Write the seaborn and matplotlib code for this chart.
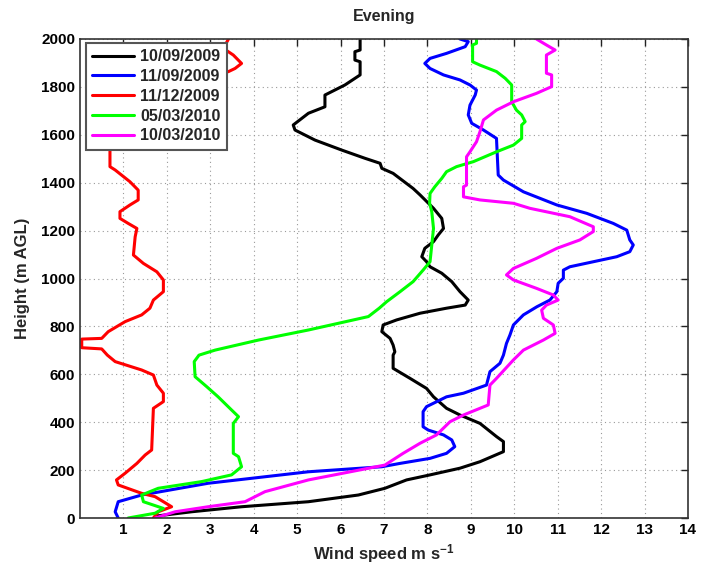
import matplotlib
matplotlib.use("Agg")
import matplotlib.pyplot as plt
import pandas as pd
import seaborn as sns

# Evening wind-speed profiles (height in m AGL, speed in m/s), listed top to bottom
dates = ["10/09/2009", "11/09/2009", "11/12/2009", "05/03/2010", "10/03/2010"]
colors = ["#000000", "#0000ff", "#ff0000", "#00ff00", "#ff00ff"]

height_100909 = [2000, 1954, 1947, 1912, 1905, 1850, 1808, 1766, 1717, 1690, 1641, 1620,
                 1578, 1536, 1502, 1481, 1460, 1439, 1376, 1349, 1293, 1251, 1209, 1182,
                 1154, 1126, 1091, 1070, 1049, 1022, 987, 945, 910, 889, 876, 855, 827,
                 806, 778, 750, 722, 694, 680, 625, 583, 541, 506, 458, 430, 395, 340,
                 319, 277, 235, 208, 180, 159, 124, 96, 68, 47, 26, 8]
speed_100909 = [6.45, 6.45, 6.33, 6.33, 6.45, 6.45, 6.10, 5.64, 5.64, 5.26, 4.91, 4.95,
                5.41, 6.03, 6.56, 6.91, 6.95, 7.21, 7.67, 7.83, 8.14, 8.33, 8.37, 8.25,
                8.14, 7.94, 7.87, 7.98, 8.06, 8.33, 8.56, 8.75, 8.94, 8.87, 8.44, 7.83,
                7.29, 6.98, 6.95, 7.14, 7.21, 7.25, 7.21, 7.21, 7.60, 7.98, 8.14, 8.44,
                8.75, 9.21, 9.59, 9.75, 9.75, 9.21, 8.75, 8.06, 7.52, 7.02, 6.41, 5.26,
                3.72, 2.57, 1.75]

height_110909 = [2000, 1989, 1968, 1940, 1919, 1898, 1877, 1850, 1829, 1808, 1787, 1766,
                 1724, 1683, 1648, 1620, 1585, 1432, 1411, 1362, 1307, 1272, 1230, 1202,
                 1161, 1140, 1112, 1091, 1070, 1049, 1035, 1001, 980, 945, 910, 882, 848,
                 806, 764, 729, 680, 646, 611, 555, 521, 506, 465, 444, 381, 367, 347,
                 326, 298, 270, 249, 228, 214, 193, 145, 96, 68, 26, 0]
speed_110909 = [8.75, 8.94, 8.87, 8.44, 8.06, 7.94, 8.06, 8.37, 8.75, 8.98, 9.13, 9.10,
                8.98, 8.94, 9.02, 9.29, 9.59, 9.63, 9.75, 10.21, 10.98, 11.67, 12.28,
                12.59, 12.66, 12.74, 12.66, 12.36, 11.82, 11.28, 11.13, 11.13, 11.01,
                10.98, 10.82, 10.52, 10.21, 9.98, 9.90, 9.82, 9.75, 9.67, 9.44, 9.36,
                8.83, 8.44, 7.98, 7.90, 7.90, 8.02, 8.37, 8.56, 8.63, 8.44, 8.06, 7.37,
                6.95, 5.26, 2.95, 1.42, 0.88, 0.81, 0.88]

height_111209 = [2000, 1961, 1933, 1898, 1877, 1864, 1820, 1760, 1700, 1640, 1580, 1557,
                 1467, 1453, 1404, 1369, 1328, 1307, 1279, 1251, 1230, 1209, 1174, 1098,
                 1063, 1028, 994, 945, 910, 876, 848, 820, 778, 750, 747, 711, 706, 680,
                 653, 618, 597, 555, 521, 486, 458, 284, 263, 228, 187, 159, 138, 103,
                 89, 47, 26, 0]
speed_111209 = [3.42, 3.30, 3.53, 3.72, 3.57, 3.42, 2.60, 1.90, 1.40, 1.00, 0.75, 0.69,
                0.69, 0.81, 1.15, 1.34, 1.34, 1.15, 0.92, 0.92, 1.11, 1.31, 1.27, 1.23,
                1.46, 1.77, 1.92, 1.92, 1.69, 1.61, 1.42, 1.04, 0.65, 0.50, 0.04, 0.04,
                0.50, 0.63, 0.81, 1.42, 1.69, 1.77, 1.92, 1.92, 1.69, 1.65, 1.50, 1.31,
                1.04, 0.84, 0.88, 1.42, 1.73, 2.11, 1.80, 1.69]

height_050310 = [2000, 1982, 1975, 1905, 1891, 1864, 1836, 1808, 1738, 1703, 1683, 1655,
                 1641, 1585, 1557, 1529, 1488, 1467, 1446, 1418, 1383, 1355, 1314, 1279,
                 1209, 1070, 1035, 987, 945, 903, 876, 841, 785, 743, 701, 680, 653, 590,
                 548, 506, 451, 423, 395, 270, 256, 214, 180, 152, 124, 96, 68, 40, 20, 0]
speed_050310 = [9.13, 9.13, 9.04, 9.04, 9.21, 9.59, 9.79, 9.94, 9.94, 10.05, 10.17, 10.25,
                10.17, 10.17, 9.98, 9.59, 9.06, 8.67, 8.44, 8.33, 8.17, 8.06, 8.05, 8.10,
                8.14, 8.06, 7.90, 7.67, 7.37, 7.06, 6.89, 6.64, 5.26, 4.11, 3.11, 2.74,
                2.63, 2.65, 2.92, 3.18, 3.49, 3.65, 3.53, 3.53, 3.65, 3.72, 3.49, 2.80,
                1.80, 1.42, 1.46, 1.92, 1.73, 1.11]

height_100310 = [2000, 1975, 1954, 1933, 1857, 1850, 1801, 1773, 1738, 1703, 1662, 1613,
                 1571, 1529, 1508, 1390, 1383, 1341, 1328, 1314, 1293, 1258, 1216, 1196,
                 1161, 1126, 1084, 1042, 1015, 994, 959, 931, 910, 889, 868, 834, 806,
                 771, 743, 701, 660, 583, 555, 472, 430, 402, 347, 312, 270, 221, 159,
                 110, 68, 47, 26, 0]
speed_100310 = [10.51, 10.74, 10.94, 10.74, 10.74, 10.86, 10.86, 10.51, 9.98, 9.59, 9.29,
                9.21, 9.13, 8.98, 8.90, 8.90, 8.83, 8.83, 9.21, 9.98, 10.36, 11.28, 11.82,
                11.82, 11.51, 10.98, 10.51, 9.98, 9.82, 9.98, 10.51, 10.90, 11.01, 10.74,
                10.63, 10.67, 10.90, 10.94, 10.67, 10.21, 9.98, 9.59, 9.44, 9.40, 8.83,
                8.52, 8.21, 7.83, 7.44, 7.02, 5.26, 4.26, 3.80, 2.95, 2.19, 1.73]

profiles = {
    "10/09/2009": (height_100909, speed_100909),
    "11/09/2009": (height_110909, speed_110909),
    "11/12/2009": (height_111209, speed_111209),
    "05/03/2010": (height_050310, speed_050310),
    "10/03/2010": (height_100310, speed_100310),
}

frames = []
for date in dates:
    h, s = profiles[date]
    frames.append(pd.DataFrame({"date": date, "height": h, "speed": s,
                                "step": range(len(h))}))
df = pd.concat(frames, ignore_index=True)

x_ticks = list(range(1, 15))
y_ticks = list(range(0, 2001, 200))

sns.set_style("white")
plt.rcParams["font.family"] = ["Liberation Sans", "DejaVu Sans"]
plt.rcParams["font.weight"] = "bold"
plt.rcParams["mathtext.fontset"] = "custom"
plt.rcParams["mathtext.rm"] = "Liberation Sans:bold"
plt.rcParams["mathtext.default"] = "rm"

fig = plt.figure(figsize=(7.02, 5.71), dpi=100)
ax = fig.add_axes([80 / 702, 1 - 518 / 571, 608 / 702, 479 / 571])

sns.lineplot(data=df, x="speed", y="height", hue="date", hue_order=dates,
             palette=colors, sort=False, estimator=None, orient="y",
             linewidth=2.2, ax=ax)

ax.set_xlim(0, 14)
ax.set_ylim(0, 2000)
ax.set_xticks(x_ticks)
ax.set_yticks(y_ticks)
ax.tick_params(direction="in", top=True, right=True, length=5, width=1,
               labelsize=11, colors="#222222", labelcolor="black")
for lab in ax.get_xticklabels() + ax.get_yticklabels():
    lab.set_fontweight("bold")

ax.grid(True, linestyle=(0, (1, 3)), color="#9a9a9a", linewidth=0.8)
ax.set_axisbelow(True)
for sp in ax.spines.values():
    sp.set_linewidth(1.2)
    sp.set_color("#333333")

ax.set_title("Evening", fontsize=11.5, fontweight="bold", pad=13)
ax.set_xlabel("Wind speed m s$^{-1}$", fontsize=12, fontweight="bold", labelpad=4)
ax.set_ylabel("Height (m AGL)", fontsize=12, fontweight="bold", labelpad=8)

handles, labels = ax.get_legend_handles_labels()
leg = ax.legend(handles, labels, loc="upper left", bbox_to_anchor=(0.01, 0.992),
                borderaxespad=0, fancybox=False, framealpha=1, edgecolor="#555555",
                prop={"weight": "bold", "size": 11.5}, handlelength=2.6,
                handletextpad=0.4, labelspacing=0.3, borderpad=0.4)
leg.get_frame().set_linewidth(1.5)
for line in leg.get_lines():
    line.set_linewidth(2.2)

fig.savefig("out.png", dpi=100)
